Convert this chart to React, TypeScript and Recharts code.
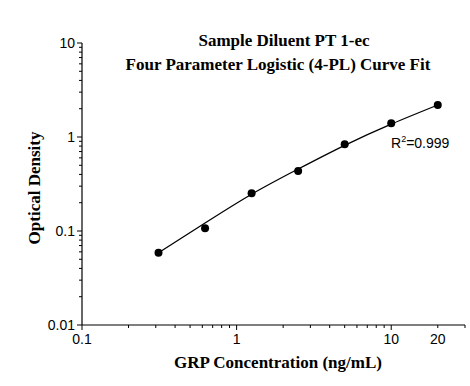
import React from 'react';
import { ComposedChart, Line, XAxis, YAxis } from 'recharts';

const concentrations = [0.3125, 0.625, 1.25, 2.5, 5, 10, 20];
const measuredOD = [0.0588, 0.1068, 0.2518, 0.4347, 0.8364, 1.399, 2.19];
const fittedOD = [0.0588, 0.1217, 0.2463, 0.4566, 0.816, 1.371, 2.19];

const xMajorTicks = [0.1, 1, 10];
const xLabeledTicks = [0.1, 1, 10, 20];
const xMinorTicks = [0.2, 0.3, 0.4, 0.5, 0.6, 0.7, 0.8, 0.9, 2, 3, 4, 5, 6, 7, 8, 9, 20, 30];
const yMajorTicks = [0.01, 0.1, 1, 10];
const yMinorTicks = [
  0.02, 0.03, 0.04, 0.05, 0.06, 0.07, 0.08, 0.09,
  0.2, 0.3, 0.4, 0.5, 0.6, 0.7, 0.8, 0.9,
  2, 3, 4, 5, 6, 7, 8, 9,
];

const titleLine1 = 'Sample Diluent PT 1-ec';
const titleLine2 = 'Four Parameter Logistic (4-PL) Curve Fit';
const xTitle = 'GRP Concentration (ng/mL)';
const yTitle = 'Optical Density';

const data = concentrations.map((c, i) => ({ conc: c, od: measuredOD[i], fit: fittedOD[i] }));

const xTicks = [...xMajorTicks, ...xMinorTicks].sort((a, b) => a - b);
const yTicks = [...yMajorTicks, ...yMinorTicks].sort((a, b) => a - b);

const sans = 'Arial, "Liberation Sans", sans-serif';
const serif = '"Times New Roman", "Liberation Serif", serif';

const XTick = (props: any) => {
  const { x, y, payload } = props;
  const v = payload.value;
  const major = xMajorTicks.includes(v);
  const labeled = xLabeledTicks.includes(v);
  return (
    <g>
      <line x1={x} x2={x} y1={y} y2={y + (major ? 5 : 3)} stroke="#000" strokeWidth={1} />
      {labeled && (
        <text x={x} y={y + 19} textAnchor="middle" fontFamily={sans} fontSize={14} fill="#000">
          {String(v)}
        </text>
      )}
    </g>
  );
};

const YTick = (props: any) => {
  const { x, y, payload } = props;
  const v = payload.value;
  const major = yMajorTicks.includes(v);
  return (
    <g>
      <line x1={x - (major ? 5 : 3)} x2={x} y1={y} y2={y} stroke="#000" strokeWidth={1} />
      {major && (
        <text x={x - 7} y={y + 5} textAnchor="end" fontFamily={sans} fontSize={14} fill="#000">
          {String(v)}
        </text>
      )}
    </g>
  );
};

export default function App() {
  return (
    <div style={{ position: 'absolute', left: 0, top: 0, width: 470, height: 386, background: '#fff' }}>
      <ComposedChart
        width={470}
        height={386}
        data={data}
        margin={{ top: 43, right: 5, bottom: 0, left: 0 }}
      >
        <XAxis
          dataKey="conc"
          type="number"
          scale="log"
          domain={[0.1, 30]}
          ticks={xTicks}
          interval={0}
          tickSize={0}
          tickMargin={0}
          tickLine={false}
          tick={<XTick />}
          height={61}
          axisLine={{ stroke: '#000', strokeWidth: 1.2 }}
          allowDataOverflow
        />
        <YAxis
          type="number"
          scale="log"
          domain={[0.01, 10]}
          ticks={yTicks}
          interval={0}
          tickSize={0}
          tickMargin={0}
          tickLine={false}
          tick={<YTick />}
          width={82}
          axisLine={{ stroke: '#000', strokeWidth: 1.2 }}
          allowDataOverflow
        />
        <Line
          dataKey="fit"
          type="natural"
          stroke="#000"
          strokeWidth={1.3}
          dot={false}
          isAnimationActive={false}
        />
        <Line
          dataKey="od"
          stroke="none"
          dot={{ r: 4, fill: '#000', stroke: '#000', strokeWidth: 0 }}
          activeDot={false}
          isAnimationActive={false}
        />
        <text x={284} y={46} textAnchor="middle" fontFamily={serif} fontWeight="bold" fontSize={17} fill="#000">
          {titleLine1}
        </text>
        <text x={278} y={70} textAnchor="middle" fontFamily={serif} fontWeight="bold" fontSize={17} fill="#000">
          {titleLine2}
        </text>
        <text x={278} y={368} textAnchor="middle" fontFamily={serif} fontWeight="bold" fontSize={17} fill="#000">
          {xTitle}
        </text>
        <text
          x={0}
          y={0}
          transform="translate(40, 188) rotate(-90)"
          textAnchor="middle"
          fontFamily={serif}
          fontWeight="bold"
          fontSize={17}
          fill="#000"
        >
          {yTitle}
        </text>
        <text x={391} y={148} fontFamily={sans} fontSize={14} fill="#000">
          R<tspan dy={-6} fontSize={9}>2</tspan><tspan dy={6}>=0.999</tspan>
        </text>
      </ComposedChart>
    </div>
  );
}
